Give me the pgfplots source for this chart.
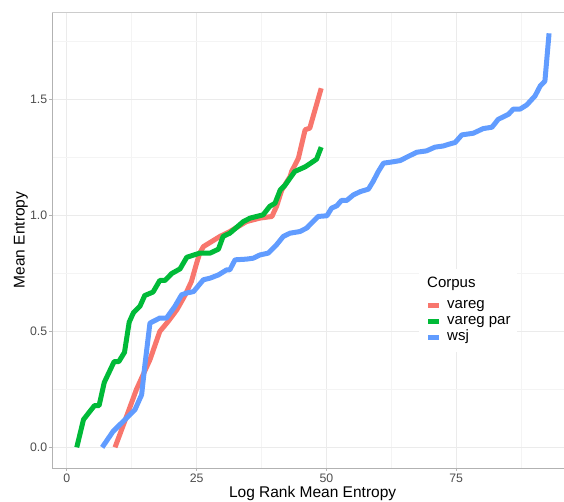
\documentclass[border=0pt]{standalone}
\usepackage{pgfplots}
\pgfplotsset{compat=1.18}
\usepackage{fontspec}
\setmainfont{Liberation Sans}
\definecolor{cred}{HTML}{F8766D}
\definecolor{cgreen}{HTML}{00BA38}
\definecolor{cblue}{HTML}{619CFF}
\definecolor{ticktext}{HTML}{4D4D4D}
\definecolor{gridmaj}{HTML}{EBEBEB}
\definecolor{gridmin}{HTML}{F4F4F4}
\begin{document}
\begin{tikzpicture}
\begin{axis}[
  scale only axis, width=512pt, height=456pt,
  xmin=-2.87, xmax=95.78, ymin=-0.089, ymax=1.878,
  axis x line*=bottom, axis y line*=left,
  axis line style={draw=gray!60, line width=0.8pt, -},
  xtick={0,25,50,75}, ytick={0,0.5,1,1.5},
  xticklabels={0,25,50,75}, yticklabels={0.0,0.5,1.0,1.5},
  minor xtick={12.5,37.5,62.5,87.5}, minor ytick={0.25,0.75,1.25,1.75},
  grid=both,
  major grid style={draw=gridmaj, line width=1.1pt},
  minor grid style={draw=gridmin, line width=0.6pt},
  tick align=outside, major tick length=3pt, minor tick length=0pt,
  tick style={draw=gray!60, line width=0.8pt},
  /pgf/number format/assume math mode=true,
  ticklabel style={font=\fontsize{12.3}{14}\selectfont, text=ticktext, inner sep=0pt},
  xticklabel style={yshift=-2.5pt},
  yticklabel style={xshift=-1.7pt},
  xlabel={Log Rank Mean Entropy},
  ylabel={Mean Entropy},
  label style={font=\fontsize{15.5}{18}\selectfont},
  xlabel style={at={(axis description cs:0.509,-0.0636)}, anchor=base},
  ylabel style={at={(axis description cs:-0.0535,0.5)}, anchor=base},
  legend cell align=left,
  legend image code/.code={\draw[#1, line width=5pt, line cap=butt] (0pt,0pt) -- (11pt,0pt);},
  legend style={at={(axis cs:67.84,0.770)}, anchor=north west, fill=white, draw=none,
    inner xsep=6.5pt, inner ysep=7pt, font=\fontsize{15}{16}\selectfont,
    row sep=1pt, column sep=0pt,
    nodes={inner sep=0pt, text height=11pt, text depth=4pt},
    /tikz/every odd column/.append style={column sep=5.5pt}},
  every axis plot/.append style={line width=5pt, line join=round, line cap=butt, no markers},
]
\addlegendimage{empty legend}
\addlegendentry[text depth=9.8pt]{\hspace{-20pt}Corpus}
\addplot[cred] coordinates {
(9.27,0) (11.5,0.134) (13.4,0.25) (16.0,0.378) (17.9,0.5) (19.5,0.543)
(21.2,0.594) (22.8,0.658) (24.0,0.716) (25.0,0.795) (25.6,0.838) (26.3,0.866)
(29.5,0.91) (31.4,0.931) (34.6,0.974) (37.2,0.989) (39.5,0.996) (40.4,1.04)
(41.4,1.11) (43.0,1.168) (43.3,1.19) (44.6,1.247) (45.9,1.37) (46.8,1.377) (49.0,1.549)
};
\addlegendentry{vareg}
\addplot[cgreen] coordinates {
(1.9,0) (3.2,0.12) (5.3,0.18) (6.2,0.18) (7.2,0.28) (9.1,0.37) (10.0,0.37)
(11.1,0.41) (12.0,0.54) (12.8,0.58) (14.1,0.61) (15.0,0.655) (16.6,0.67)
(17.9,0.72) (18.9,0.72) (20.2,0.75) (21.8,0.77) (23.1,0.82) (25.6,0.838)
(27.6,0.838) (29.2,0.855) (30.1,0.91) (31.4,0.924) (34.0,0.974) (35.3,0.989)
(37.8,1.003) (39.1,1.04) (40.1,1.053) (41.1,1.11) (42.0,1.13) (43.9,1.19)
(45.9,1.21) (48.1,1.243) (49.0,1.295)
};
\addlegendentry{vareg par}
\addplot[cblue] coordinates {
(6.8,0) (8.9,0.069) (11.2,0.12) (13.1,0.162) (14.4,0.227) (15.0,0.35) (16.0,0.536)
(17.9,0.558) (19.2,0.558) (20.8,0.608) (22.1,0.658) (23.1,0.666) (24.4,0.672)
(26.3,0.723) (27.6,0.73) (29.2,0.744) (30.8,0.766) (31.4,0.766) (32.4,0.809)
(34.6,0.812) (35.9,0.816) (37.2,0.83) (38.8,0.838) (40.4,0.874) (41.7,0.91)
(43.0,0.924) (44.9,0.931) (46.2,0.946) (48.4,0.996) (50.1,0.999) (51.0,1.032)
(52.0,1.042) (52.9,1.065) (53.9,1.065) (55.2,1.089) (56.5,1.103) (58.1,1.114)
(59.0,1.147) (60.0,1.19) (61.0,1.226) (62.3,1.23) (64.2,1.237) (65.5,1.252)
(67.4,1.273) (69.3,1.279) (70.9,1.295) (72.5,1.30) (73.8,1.309) (74.8,1.315)
(76.1,1.348) (78.3,1.355) (80.2,1.375) (81.9,1.381) (83.1,1.415) (85.1,1.437)
(86.0,1.459) (87.3,1.459) (88.6,1.477) (90.2,1.516) (91.2,1.559) (92.1,1.58) (92.9,1.786)
};
\addlegendentry{wsj}
\draw[gray!40, line width=0.8pt] (rel axis cs:0,1) -- (rel axis cs:1,1);
\end{axis}
\pgfresetboundingbox
\path[use as bounding box] (-52pt,-33pt) rectangle (512pt,468pt);
\end{tikzpicture}
\end{document}
